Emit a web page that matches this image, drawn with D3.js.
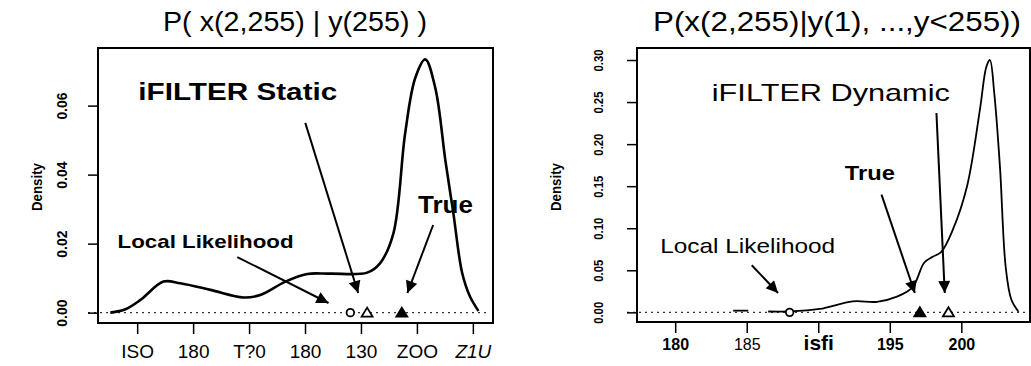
<!DOCTYPE html>
<html>
<head>
<meta charset="utf-8">
<script src="https://cdn.jsdelivr.net/npm/d3@7"></script>
<style>
	body { margin: 0; background: #fff; }
	svg { display: block; }
</style>
</head>
<body>
<svg width="1031" height="366"></svg>
<script>
// left panel: static density
var leftX = [145.2, 147.9, 150.6, 154.7, 157.7, 163.1, 169.0, 172.0, 176.5, 180.4, 184.5, 191.1, 193.4, 195.8, 197.9, 199.7, 201.5, 203.3, 205.1, 206.5, 208.1, 209.5, 211.0];
var leftY = [0.0, 0.001, 0.0037, 0.009, 0.0085, 0.0066, 0.0044, 0.0051, 0.009, 0.0112, 0.0113, 0.0116, 0.0143, 0.023, 0.052, 0.068, 0.0734, 0.065, 0.044, 0.029, 0.0114, 0.0046, 0.0005];
var leftXTicks = [150, 160, 170, 180, 190, 200, 210];
var leftXLabels = ["ISO", "180", "T?0", "180", "130", "ZOO", "Z1U"];
var leftYTicks = [0, 0.02, 0.04, 0.06];
var leftMarkerX = [188.1, 191.1, 197.3];
var leftMarkerShape = ["circle", "open", "filled"];

// right panel: dynamic density
var rightX = [186.5, 188.0, 190.1, 192.4, 194.1, 195.5, 196.6, 197.4, 198.0, 198.6, 199.4, 200.4, 201.3, 201.75, 202.0, 202.3, 202.7, 203.1, 203.5, 204.0];
var rightY = [0.001, 0.001, 0.004, 0.013, 0.0125, 0.0186, 0.030, 0.059, 0.066, 0.072, 0.098, 0.150, 0.241, 0.292, 0.300, 0.261, 0.173, 0.054, 0.015, 0.0007];
var rightStubX = [184.05, 185.1];
var rightStubY = [0.002, 0.002];
var rightXTicks = [180, 185, 190, 195, 200];
var rightXLabels = ["180", "185", "isfi", "195", "200"];
var rightYTicks = [0, 0.05, 0.10, 0.15, 0.20, 0.25, 0.30];
var rightMarkerX = [188.0, 197.1, 199.1];
var rightMarkerShape = ["circle", "filled", "open"];

var svg = d3.select("svg");

svg.append("defs")
	.append("marker")
	.attr("id", "head")
	.attr("viewBox", "0 -5 10 10")
	.attr("refX", 10)
	.attr("refY", 0)
	.attr("markerWidth", 13)
	.attr("markerHeight", 12)
	.attr("markerUnits", "userSpaceOnUse")
	.attr("orient", "auto")
	.append("path")
	.attr("d", "M0,-5L10,0L0,5Z")
	.style("fill", "#000");

function drawPanel(p) {
	var x = d3.scaleLinear().domain(p.xDomain).range([p.left, p.right]);
	var y = d3.scaleLinear().domain(p.yDomain).range([p.bottom, p.top]);
	var g = svg.append("g");

	// title (scanned text is wider than the font, so stretch it)
	g.append("text")
		.attr("x", p.titleX)
		.attr("y", 31)
		.attr("textLength", p.titleLen)
		.attr("lengthAdjust", "spacingAndGlyphs")
		.style("font-family", "Liberation Sans, Arial, sans-serif")
		.style("font-size", "27px")
		.text(p.title);

	// dotted zero line
	g.append("line")
		.attr("x1", p.left - 10)
		.attr("x2", p.right - 3)
		.attr("y1", y(0))
		.attr("y2", y(0))
		.style("stroke", "#333")
		.style("stroke-width", 1.2)
		.style("stroke-dasharray", "2,4");

	// frame
	g.append("rect")
		.attr("x", p.left)
		.attr("y", p.top)
		.attr("width", p.right - p.left)
		.attr("height", p.bottom - p.top)
		.style("fill", "none")
		.style("stroke", "#000")
		.style("stroke-width", 2);

	// y axis
	var yAxis = g.append("g")
		.attr("transform", "translate(" + p.left + ",0)")
		.call(d3.axisLeft(y).tickValues(p.yTicks).tickSize(10).tickFormat(d3.format(".2f")));
	yAxis.select(".domain").remove();
	yAxis.selectAll("line").style("stroke-width", 1.5);
	yAxis.selectAll("text")
		.attr("x", 0)
		.attr("y", 0)
		.attr("dy", null)
		.attr("text-anchor", "middle")
		.attr("transform", "translate(" + (p.yLabelX - p.left) + ",0) rotate(-90)")
		.attr("textLength", p.yLabelLen)
		.attr("lengthAdjust", "spacingAndGlyphs")
		.style("font-family", "Liberation Sans Narrow, Arial Narrow, sans-serif")
		.style("font-weight", "bold")
		.style("font-size", p.yFont)
		.attr("dominant-baseline", "middle");

	g.append("text")
		.attr("transform", "translate(" + p.densX + "," + p.densY + ") rotate(-90)")
		.attr("text-anchor", "middle")
		.attr("dominant-baseline", "middle")
		.attr("textLength", 48)
		.attr("lengthAdjust", "spacingAndGlyphs")
		.style("font-family", "Liberation Sans Narrow, Arial Narrow, sans-serif")
		.style("font-weight", "bold")
		.style("font-size", "14px")
		.text("Density");

	// x axis
	var xAxis = g.append("g")
		.attr("transform", "translate(0," + p.bottom + ")")
		.call(d3.axisBottom(x).tickValues(p.xTicks).tickSize(11).tickFormat(function (d, i) {
			return p.xLabels[i];
		}));
	xAxis.select(".domain").remove();
	xAxis.selectAll("line").style("stroke-width", 1.5);
	xAxis.selectAll("text")
		.attr("y", p.xLabelY)
		.attr("dy", null)
		.style("font-family", "Liberation Sans, Arial, sans-serif")
		.style("font-size", function (d, i) { return p.xFont[i]; })
		.style("font-weight", function (d, i) { return p.xBold[i] ? "bold" : "normal"; })
		.style("font-style", function (d, i) { return p.xItalic[i] ? "italic" : "normal"; });

	// density curve
	var line = d3.line()
		.x(function (d) { return x(d[0]); })
		.y(function (d) { return y(d[1]); })
		.curve(d3.curveCatmullRom);

	p.curves.forEach(function (c) {
		g.append("path")
			.datum(d3.zip(c[0], c[1]))
			.attr("d", line)
			.style("fill", "none")
			.style("stroke", "#000")
			.style("stroke-width", p.lineWidth)
			.style("stroke-linejoin", "round");
	});

	// markers on the axis
	p.markerX.forEach(function (mx, i) {
		var cx = x(mx), cy = y(0);
		if (p.markerShape[i] == "circle") {
			g.append("circle")
				.attr("cx", cx)
				.attr("cy", cy)
				.attr("r", 3.8)
				.style("fill", "#fff")
				.style("stroke", "#000")
				.style("stroke-width", 1.8);
		} else {
			g.append("path")
				.attr("d", "M" + (cx - 5.5) + "," + (cy + 4) + "L" + cx + "," + (cy - 5) + "L" + (cx + 5.5) + "," + (cy + 4) + "Z")
				.style("fill", p.markerShape[i] == "filled" ? "#000" : "#fff")
				.style("stroke", "#000")
				.style("stroke-width", 1.8);
		}
	});

	// arrows
	p.arrows.forEach(function (a) {
		g.append("line")
			.attr("x1", x(a[0]))
			.attr("y1", y(a[1]))
			.attr("x2", x(a[2]))
			.attr("y2", y(a[3]))
			.style("stroke", "#000")
			.style("stroke-width", 2)
			.attr("marker-end", "url(#head)");
	});

	// annotation texts
	p.notes.forEach(function (n) {
		g.append("text")
			.attr("x", x(n.x))
			.attr("y", y(n.y))
			.attr("textLength", n.len)
			.attr("lengthAdjust", "spacingAndGlyphs")
			.style("font-family", "Liberation Sans, Arial, sans-serif")
			.style("font-size", n.size)
			.style("font-weight", n.bold ? "bold" : "normal")
			.text(n.text);
	});
}

drawPanel({
	title: "P( x(2,255) | y(255) )",
	titleX: 163, titleLen: 264,
	left: 98, right: 493, top: 48, bottom: 323,
	xDomain: [143.0, 213.6],
	yDomain: [-0.0030, 0.0767],
	xTicks: leftXTicks, xLabels: leftXLabels,
	xFont: ["19px", "19px", "19px", "19px", "19px", "19px", "19px"],
	xBold: [false, false, false, false, false, false, false],
	xItalic: [false, false, false, false, false, false, true],
	xLabelY: 35,
	yTicks: leftYTicks, yLabelX: 63, yFont: "14px", yLabelLen: 27,
	densX: 38, densY: 187,
	lineWidth: 2.6,
	curves: [[leftX, leftY]],
	markerX: leftMarkerX, markerShape: leftMarkerShape,
	arrows: [
		[180.05, 0.055, 189.5, 0.0057],
		[167.9, 0.0161, 184.2, 0.0028],
		[202.9, 0.0254, 198.3, 0.0057]
	],
	notes: [
		{ text: "iFILTER Static", x: 150.2, y: 0.0617, size: "23px", bold: true, len: 199 },
		{ text: "Local Likelihood", x: 146.5, y: 0.0188, size: "19px", bold: true, len: 176 },
		{ text: "True", x: 200.2, y: 0.0289, size: "23px", bold: true, len: 55 }
	]
});

drawPanel({
	title: "P(x(2,255)|y(1), ...,y<255))",
	titleX: 653, titleLen: 368,
	left: 637, right: 1030, top: 48, bottom: 322,
	xDomain: [177.33, 204.8],
	yDomain: [-0.0115, 0.3143],
	xTicks: rightXTicks, xLabels: rightXLabels,
	xFont: ["16px", "16px", "21px", "16px", "16px"],
	xBold: [true, false, true, true, true],
	xItalic: [false, false, false, false, false],
	xLabelY: 28,
	yTicks: rightYTicks, yLabelX: 600, yFont: "13px", yLabelLen: 22,
	densX: 557, densY: 187,
	lineWidth: 1.8,
	curves: [[rightStubX, rightStubY], [rightX, rightY]],
	markerX: rightMarkerX, markerShape: rightMarkerShape,
	arrows: [
		[198.26, 0.237, 198.84, 0.023],
		[194.42, 0.140, 196.75, 0.023],
		[185.35, 0.056, 187.19, 0.023]
	],
	notes: [
		{ text: "iFILTER Dynamic", x: 182.56, y: 0.2507, size: "24px", bold: false, len: 238 },
		{ text: "True", x: 191.86, y: 0.1575, size: "21px", bold: true, len: 50 },
		{ text: "Local Likelihood", x: 178.95, y: 0.0706, size: "21px", bold: false, len: 175 }
	]
});
</script>
</body>
</html>
